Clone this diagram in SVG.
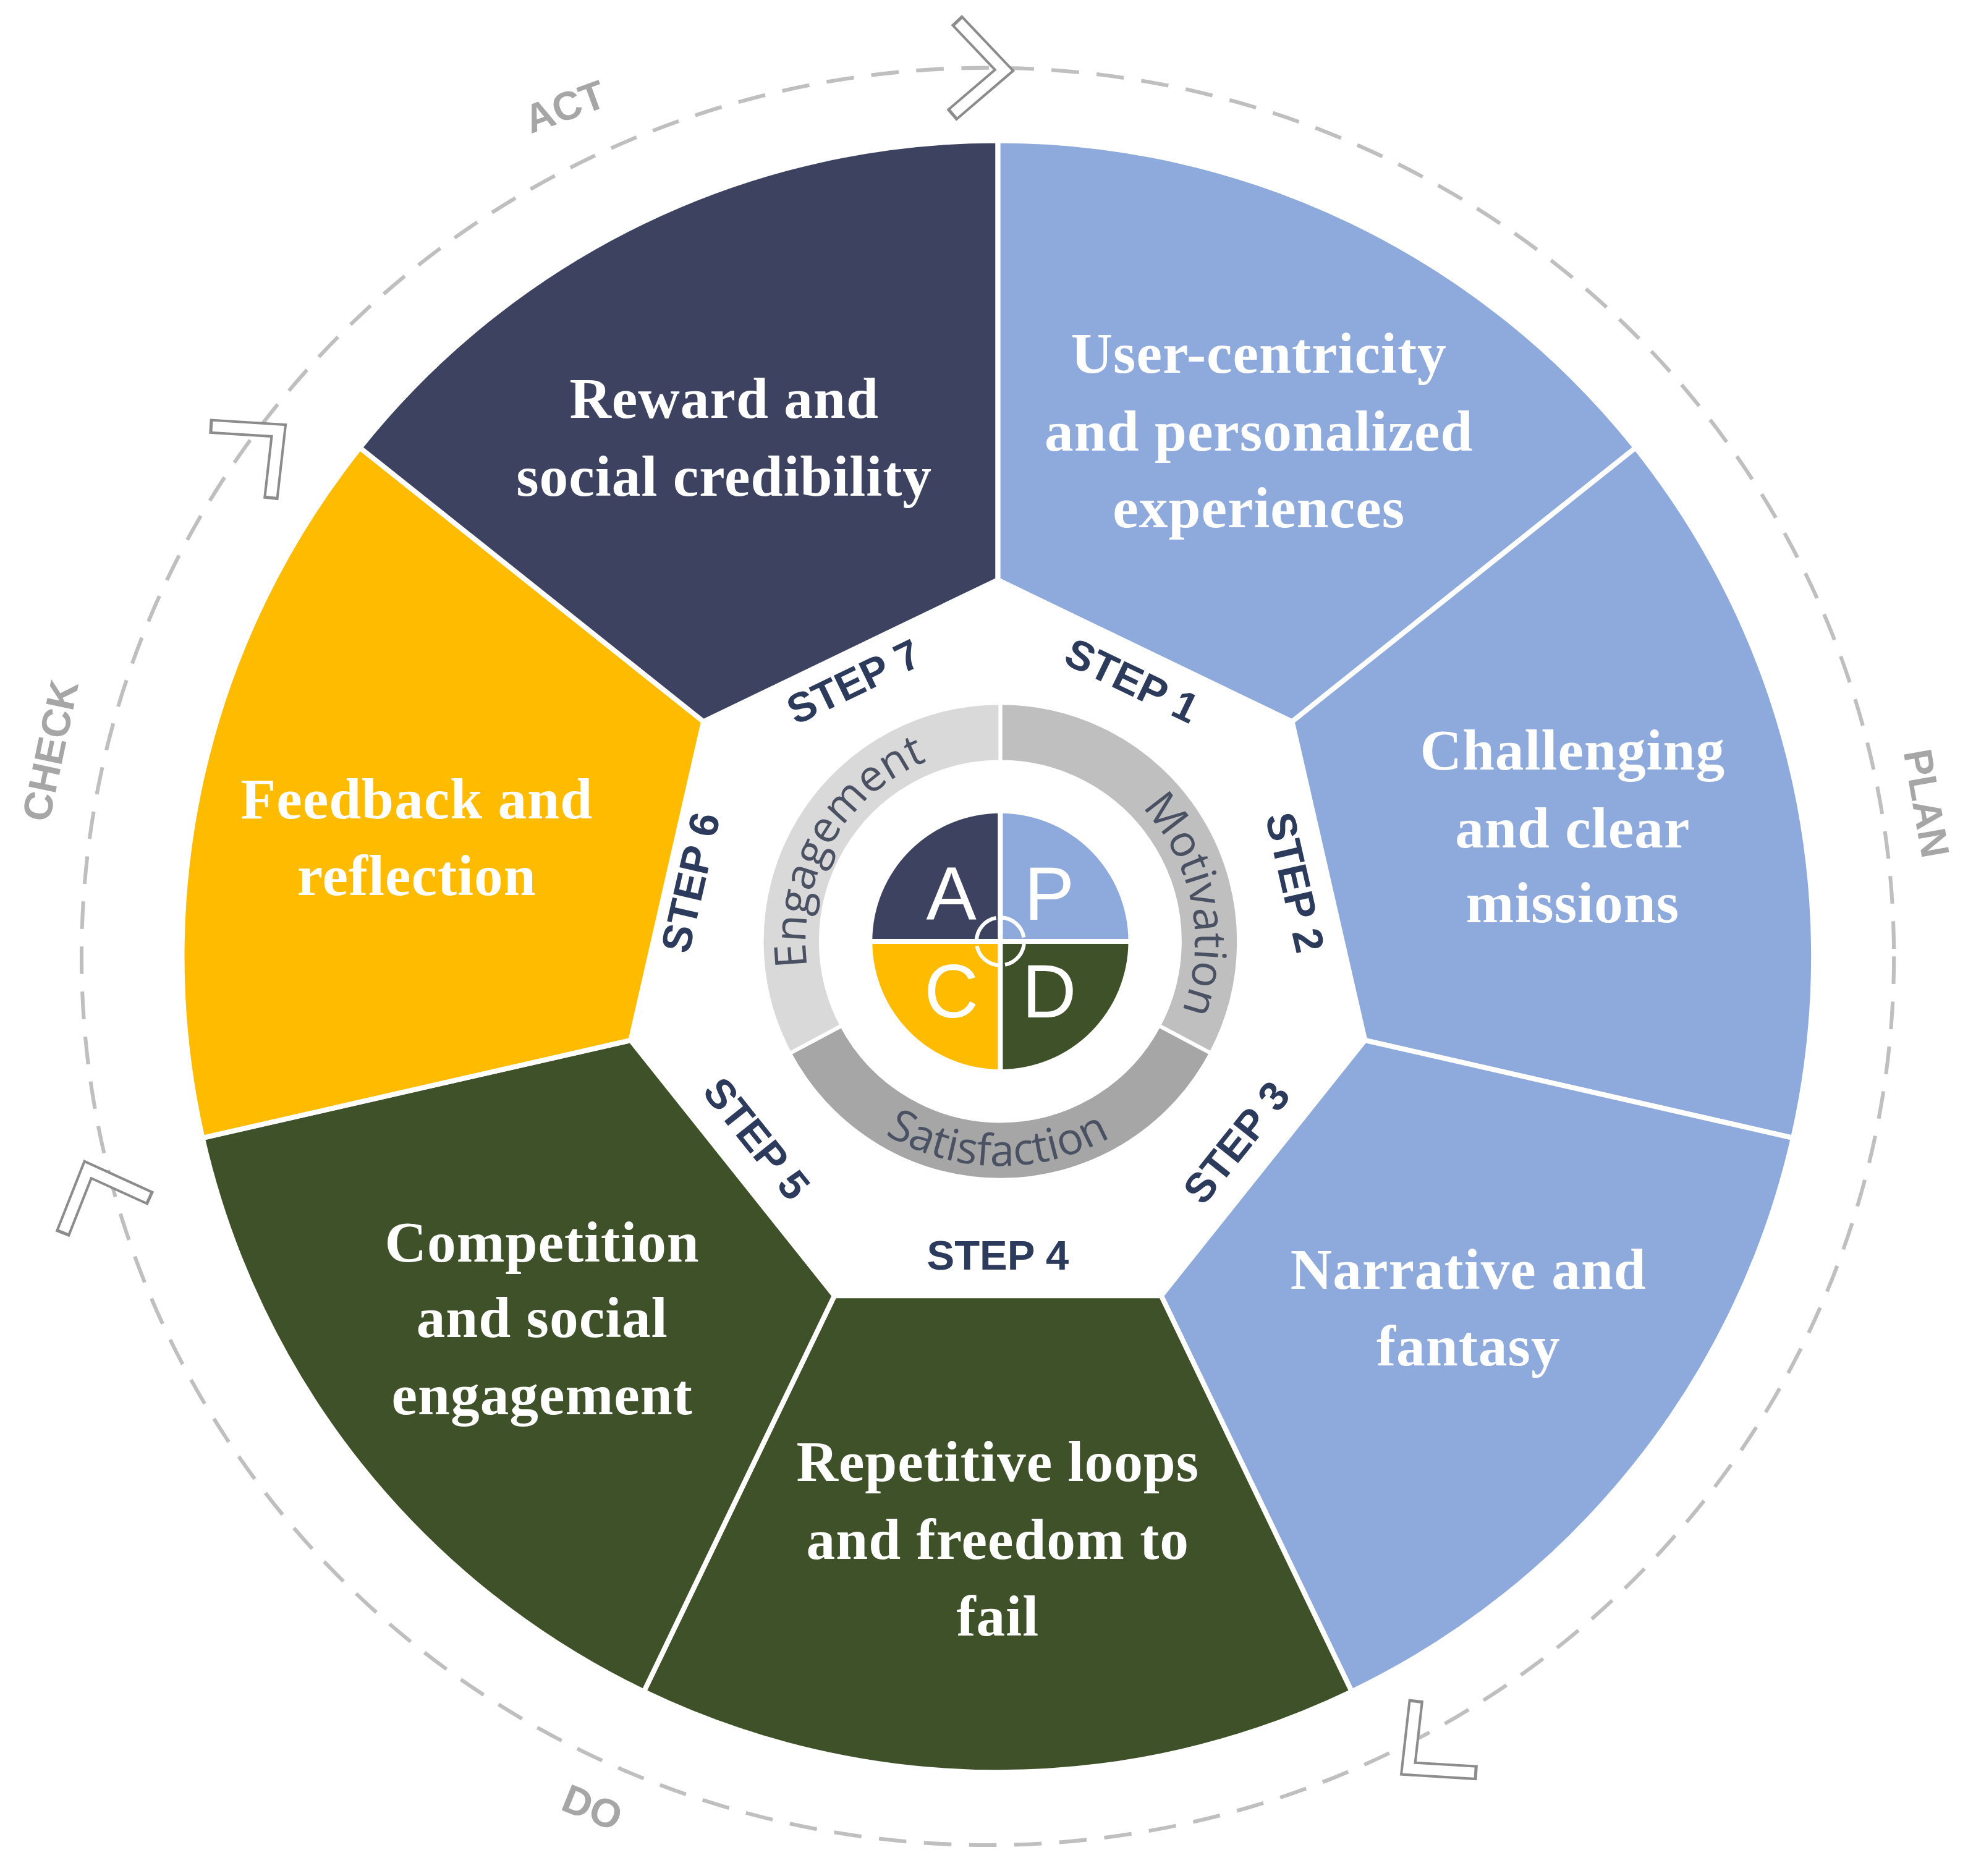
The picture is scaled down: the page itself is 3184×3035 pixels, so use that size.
<svg xmlns="http://www.w3.org/2000/svg" width="3184" height="3035" viewBox="0 0 3184 3035">
<defs>
<style>
.seg{stroke:#fff;stroke-width:4;stroke-linejoin:miter}
.st{font-family:"Liberation Serif",serif;font-weight:bold;font-size:46px;fill:#fff;text-anchor:middle;letter-spacing:0.5px}
.step{font-family:"Liberation Sans",Arial,sans-serif;font-weight:900;font-size:33px;fill:#2C3A5C;text-anchor:middle;dominant-baseline:central}
.pd{font-family:"Liberation Sans",Arial,sans-serif;font-weight:bold;font-size:32px;fill:#A6A6A6;text-anchor:middle;dominant-baseline:central}
.q{font-family:"Liberation Sans",Arial,sans-serif;font-size:60px;fill:#fff;text-anchor:middle;dominant-baseline:central}
.rt{font-family:"Open Sans","Liberation Sans",sans-serif;font-size:35px;fill:#4A5162;text-anchor:middle}
.chg{fill:none;stroke:#8C8C8C;stroke-width:12}
.chw{fill:none;stroke:#fff;stroke-width:8}
</style>
<path id="cw" d="M797,905 A155,155 0 1 1 797,595 A155,155 0 1 1 797,905"/>
<path id="ccw" d="M797,571 A179,179 0 1 0 797,929 A179,179 0 1 0 797,571"/>
<g id="chev"><path class="chg" d="M-40,-38 L0,0 L-40,38"/><path class="chw" d="M-38.2,-36.3 L0,0 L-38.2,36.3"/></g>
</defs>
<rect width="3184" height="3035" fill="#fff"/>
<g transform="scale(2.0306)">
<g id="cycle">
<ellipse cx="787" cy="762" rx="722" ry="708" fill="none" stroke="#BFBFBF" stroke-width="3" stroke-dasharray="22 14"/>
<use href="#chev" transform="translate(800,56) rotate(3)"/>
<use href="#chev" transform="translate(222,343) rotate(-40)"/>
<use href="#chev" transform="translate(70,932) rotate(-112)"/>
<use href="#chev" transform="translate(1122,1409) rotate(140)"/>
<text class="pd" transform="translate(450,85) rotate(-20)">ACT</text>
<text class="pd" transform="translate(1535,640) rotate(80)">PLAN</text>
<text class="pd" transform="translate(472,1440) rotate(22)">DO</text>
<text class="pd" transform="translate(40,598) rotate(-78)">CHECK</text>
</g>
<g id="step1"><path class="seg" fill="#8EA9DB" d="M795,462 L795,112 A650,650 0 0 1 1303.2,356.7 L1029.5,574.9 Z"/>
<text class="st" x="1003" y="297">User-centricity</text><text class="st" x="1003" y="359">and personalized</text><text class="st" x="1003" y="420">experiences</text></g>
<g id="step2"><path class="seg" fill="#8EA9DB" d="M1029.5,574.9 L1303.2,356.7 A650,650 0 0 1 1428.7,906.6 L1087.5,828.8 Z"/>
<text class="st" x="1253" y="613">Challenging</text><text class="st" x="1253" y="675">and clear</text><text class="st" x="1253" y="735">missions</text></g>
<g id="step3"><path class="seg" fill="#8EA9DB" d="M1087.5,828.8 L1428.7,906.6 A650,650 0 0 1 1077,1347.7 L925.2,1032.3 Z"/>
<text class="st" x="1170" y="1027">Narrative and</text><text class="st" x="1170" y="1088">fantasy</text></g>
<g id="step4"><path class="seg" fill="#3F5128" d="M925.2,1032.3 L1077,1347.7 A650,650 0 0 1 513,1347.7 L664.8,1032.3 Z"/>
<text class="st" x="795" y="1180">Repetitive loops</text><text class="st" x="795" y="1242">and freedom to</text><text class="st" x="795" y="1303">fail</text></g>
<g id="step5"><path class="seg" fill="#3F5128" d="M664.8,1032.3 L513,1347.7 A650,650 0 0 1 161.3,906.6 L502.5,828.8 Z"/>
<text class="st" x="432" y="1005">Competition</text><text class="st" x="432" y="1065">and social</text><text class="st" x="432" y="1127">engagement</text></g>
<g id="step6"><path class="seg" fill="#FFBB00" d="M502.5,828.8 L161.3,906.6 A650,650 0 0 1 286.8,356.7 L560.5,574.9 Z"/>
<text class="st" x="332" y="652">Feedback and</text><text class="st" x="332" y="713">reflection</text></g>
<g id="step7"><path class="seg" fill="#3C4260" d="M560.5,574.9 L286.8,356.7 A650,650 0 0 1 795,112 L795,462 Z"/>
<text class="st" x="577" y="333">Reward and</text><text class="st" x="577" y="395">social credibility</text></g>
<g id="steps">
<text class="step" transform="translate(902,542) rotate(25.7)">STEP 1</text>
<text class="step" transform="translate(1032,703) rotate(77.1)">STEP 2</text>
<text class="step" transform="translate(985,910) rotate(-51.4)">STEP 3</text>
<text class="step" transform="translate(795,1000)">STEP 4</text>
<text class="step" transform="translate(603,907) rotate(51.4)">STEP 5</text>
<text class="step" transform="translate(550,703) rotate(-77.1)">STEP 6</text>
<text class="step" transform="translate(680,543) rotate(-25.7)">STEP 7</text>
</g>
<g id="ring">
<path fill="#BFBFBF" stroke="#fff" stroke-width="3" d="M797,560 A190,190 0 0 1 964.8,839.2 L923.3,817.1 A143,143 0 0 0 797,607 Z"/>
<path fill="#A6A6A6" stroke="#fff" stroke-width="3" d="M964.8,839.2 A190,190 0 0 1 629.2,839.2 L670.7,817.1 A143,143 0 0 0 923.3,817.1 Z"/>
<path fill="#D9D9D9" stroke="#fff" stroke-width="3" d="M629.2,839.2 A190,190 0 0 1 797,560 L797,607 A143,143 0 0 0 670.7,817.1 Z"/>
<text class="rt"><textPath href="#cw" startOffset="325">Engagement</textPath></text>
<text class="rt"><textPath href="#cw" startOffset="700">Motivation</textPath></text>
<text class="rt"><textPath href="#ccw" startOffset="560">Satisfaction</textPath></text>
</g>
<g id="pdca">
<path fill="#3C4260" d="M797,750 L695,750 A102,102 0 0 1 797,648 Z"/>
<path fill="#8EA9DB" d="M797,750 L797,648 A102,102 0 0 1 899,750 Z"/>
<path fill="#3F5128" d="M797,750 L899,750 A102,102 0 0 1 797,852 Z"/>
<path fill="#FFBB00" d="M797,750 L797,852 A102,102 0 0 1 695,750 Z"/>
<path stroke="#fff" stroke-width="4" d="M797,646 V854 M693,750 H901"/>
<circle cx="797" cy="750" r="19" fill="none" stroke="#fff" stroke-width="3" stroke-dasharray="26 4"/>
<text class="q" x="758" y="712">A</text><text class="q" x="836" y="712">P</text>
<text class="q" x="758" y="790">C</text><text class="q" x="836" y="790">D</text>
</g>
</g>
</svg>
